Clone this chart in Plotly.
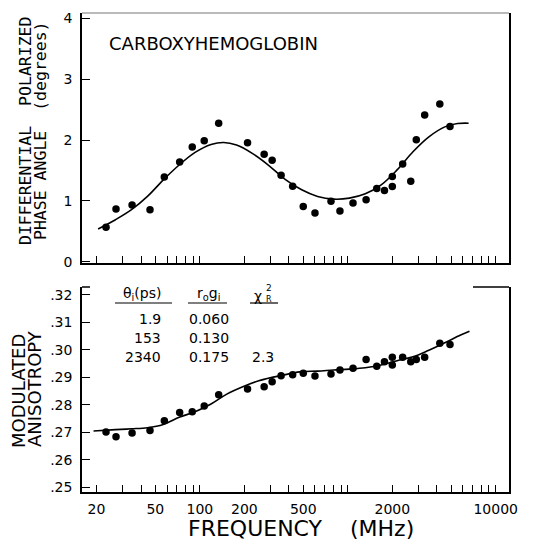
import plotly.graph_objects as go

# ---------------- data ----------------
freq_mhz = [23.2, 27.1, 34.8, 46, 57.5, 73, 88.8, 107, 134, 210, 272, 308, 354, 424, 500,
            600, 770, 885, 1085, 1330, 1570, 1770, 2000, 2000, 2350, 2665, 2905, 3310, 4190, 4910]

phase_deg = [0.567, 0.866, 0.932, 0.856, 1.395, 1.640, 1.886, 1.989, 2.278, 1.956, 1.766, 1.668,
             1.422, 1.243, 0.910, 0.801, 0.997, 0.834, 0.965, 1.019, 1.204, 1.172, 1.237, 1.401,
             1.608, 1.324, 2.005, 2.414, 2.594, 2.223]

anisotropy = [0.2701, 0.2684, 0.2698, 0.2707, 0.2742, 0.2772, 0.2775, 0.2796, 0.2837, 0.2858,
              0.2866, 0.2884, 0.2906, 0.2910, 0.2915, 0.2905, 0.2912, 0.2927, 0.2933, 0.2965,
              0.2941, 0.2957, 0.2973, 0.2945, 0.2973, 0.2957, 0.2965, 0.2973, 0.3024, 0.3020]

phase_fit_f = [20.5, 26.9, 34.5, 44.2, 56.6, 72.4, 92.8, 119, 145, 177, 226, 290, 375, 488, 625,
               800, 1025, 1313, 1682, 2153, 2759, 3534, 4529, 5521, 6561]
phase_fit_v = [0.540, 0.692, 0.856, 1.074, 1.346, 1.591, 1.798, 1.929, 1.962, 1.918, 1.782, 1.591,
               1.360, 1.183, 1.074, 1.030, 1.046, 1.117, 1.264, 1.510, 1.809, 2.054, 2.218, 2.272, 2.278]

aniso_fit_f = [19.1, 26.9, 34.5, 44.2, 56.6, 72.4, 92.8, 119, 152, 195, 250, 320, 400, 488, 625,
               800, 1025, 1313, 1682, 2153, 2759, 3534, 4529, 5794, 6650]
aniso_fit_v = [0.2705, 0.2710, 0.2713, 0.2717, 0.2729, 0.2755, 0.2775, 0.2803, 0.2839, 0.2866,
               0.2888, 0.2902, 0.2913, 0.2921, 0.2923, 0.2927, 0.2930, 0.2935, 0.2945, 0.2961,
               0.2975, 0.2999, 0.3026, 0.3054, 0.3068]

x_major_ticks = [20, 50, 100, 200, 500, 2000, 10000]
x_major_text = ["20", "50", "100", "200", "500", "2000", "10000"]
x_minor_ticks = [30, 40, 60, 70, 80, 90, 300, 400, 600, 700, 800, 900, 1000,
                 3000, 4000, 5000, 6000, 7000, 8000, 9000]
top_y_ticks = [0, 1, 2, 3, 4]
top_y_text = ["0", "1", "2", "3", "4"]
bot_y_ticks = [0.25, 0.26, 0.27, 0.28, 0.29, 0.30, 0.31, 0.32]
bot_y_text = [".25", ".26", ".27", ".28", ".29", ".30", ".31", ".32"]

table_tau = ["1.9", "153", "2340"]
table_rg = ["0.060", "0.130", "0.175"]
table_chi = ["", "", "2.3"]

# ---------------- layout helpers ----------------
W_FIG, H_FIG = 533, 549
ML, MR, MT, MB = 82, 24, 13, 57
PW = W_FIG - ML - MR
PH = H_FIG - MT - MB


def pp(px, py):
    return (px - ML) / PW, (H_FIG - MB - py) / PH


NB = "\u00a0"
MONO = "DejaVu Sans Mono"
SANS = "DejaVu Sans"

fig = go.Figure()

fig.add_trace(go.Scatter(x=phase_fit_f, y=phase_fit_v, mode="lines", xaxis="x", yaxis="y",
                         line=dict(color="black", width=1.6, shape="spline", smoothing=1.0),
                         hoverinfo="skip", showlegend=False))
fig.add_trace(go.Scatter(x=freq_mhz, y=phase_deg, mode="markers", xaxis="x", yaxis="y",
                         marker=dict(color="black", size=7.5), showlegend=False))
fig.add_trace(go.Scatter(x=aniso_fit_f, y=aniso_fit_v, mode="lines", xaxis="x2", yaxis="y2",
                         line=dict(color="black", width=1.6, shape="spline", smoothing=1.0),
                         hoverinfo="skip", showlegend=False))
fig.add_trace(go.Scatter(x=freq_mhz, y=anisotropy, mode="markers", xaxis="x2", yaxis="y2",
                         marker=dict(color="black", size=7.5), showlegend=False))

# 100 MHz at x=200 px, about 148 px per decade
x_range = [1.203, 4.09]
axis_common = dict(showgrid=False, zeroline=False, showline=True, linecolor="black", linewidth=1.5,
                   ticks="inside", tickcolor="black", tickwidth=1.2, automargin=False,
                   tickfont=dict(family=SANS, size=14, color="black"))
minor_common = dict(tickvals=x_minor_ticks, ticks="inside", ticklen=7, tickcolor="black",
                    tickwidth=1.2, showgrid=False)

top_domain = [1 - (263 - MT) / PH, 1]
bot_domain = [0, (H_FIG - MB - 287) / PH]

fig.update_layout(
    width=W_FIG, height=H_FIG,
    margin=dict(l=ML, r=MR, t=MT, b=MB, pad=0, autoexpand=False),
    paper_bgcolor="white", plot_bgcolor="white",
    font=dict(family=SANS, color="black"),
    showlegend=False,
    xaxis=dict(type="log", range=x_range, domain=[0, 1], anchor="y",
               tickvals=x_major_ticks, ticktext=x_major_text, showticklabels=False,
               ticklen=7, mirror=False, minor=minor_common, **axis_common),
    yaxis=dict(range=[-0.02, 4.09], domain=top_domain, anchor="x",
               tickvals=top_y_ticks, ticktext=top_y_text, ticklen=8, mirror=True,
               ticklabelstandoff=5, **axis_common),
    xaxis2=dict(type="log", range=x_range, domain=[0, 1], anchor="y2",
                tickvals=x_major_ticks, ticktext=x_major_text,
                ticklen=7, mirror=False, ticklabelstandoff=3, minor=minor_common, **axis_common),
    yaxis2=dict(range=[0.2483, 0.3229], domain=bot_domain, anchor="x2",
                tickvals=bot_y_ticks, ticktext=bot_y_text, ticklen=8, mirror=True,
                ticklabelstandoff=5, **axis_common),
)

shapes = []
# faint top edge of upper panel
x0, y0 = pp(82, 13)
x1, _ = pp(509, 13)
shapes.append(dict(type="line", xref="paper", yref="paper", x0=x0, x1=x1, y0=y0, y1=y0,
                   line=dict(color="#777", width=1)))
# short top edge pieces on lower panel
for a, b in [(82, 90), (473, 509)]:
    xa, ya = pp(a, 287)
    xb, _ = pp(b, 287)
    shapes.append(dict(type="line", xref="paper", yref="paper", x0=xa, x1=xb, y0=ya, y1=ya,
                       line=dict(color="black", width=1.5)))
# table underlines
for a, b in [(115, 172), (188, 227), (250, 278)]:
    xa, ya = pp(a, 303)
    xb, _ = pp(b, 303)
    shapes.append(dict(type="line", xref="paper", yref="paper", x0=xa, x1=xb, y0=ya, y1=ya,
                       line=dict(color="black", width=1.2)))
fig.update_layout(shapes=shapes)

ann = []


def add_text(text, px, py, size, family=SANS, xanchor="center", yanchor="middle", angle=0):
    x, y = pp(px, py)
    ann.append(dict(text=text, x=x, y=y, xref="paper", yref="paper", showarrow=False,
                    xanchor=xanchor, yanchor=yanchor, textangle=angle,
                    font=dict(family=family, size=size, color="black")))


# axis titles
add_text("DIFFERENTIAL" + NB * 2 + "POLARIZED", 25, 131, 16.5, family=MONO, angle=-90)
add_text("PHASE" + NB + "ANGLE" + NB * 2 + "(degrees)", 40, 131, 16.5, family=MONO, angle=-90)
add_text("MODULATED", 18, 391, 18, angle=-90)
add_text("ANISOTROPY", 34, 389, 18, angle=-90)
add_text("FREQUENCY" + NB * 4 + "(MHz)", 301, 528, 22)
add_text("CARBOXYHEMOGLOBIN", 107, 43, 18, xanchor="left")

# table
add_text("θ<sub>i</sub>(ps)", 142, 294, 14)
add_text("r<sub>o</sub>g<sub>i</sub>", 208, 294, 14)
add_text("χ", 258, 296, 14)
add_text("2", 269, 288, 9)
add_text("R", 269, 299, 8)
rows_y = [319, 338, 357]
for t, r, c, ry in zip(table_tau, table_rg, table_chi, rows_y):
    add_text(t, 163, ry, 14, xanchor="right")
    add_text(r, 187, ry, 14, xanchor="left")
    if c:
        add_text(c, 250, ry, 14, xanchor="left")

fig.update_layout(annotations=ann)

fig.write_html(
    "out.html",
    config={"displayModeBar": False},
    post_script="document.body.style.margin='0';document.body.style.overflow='hidden';",
)
